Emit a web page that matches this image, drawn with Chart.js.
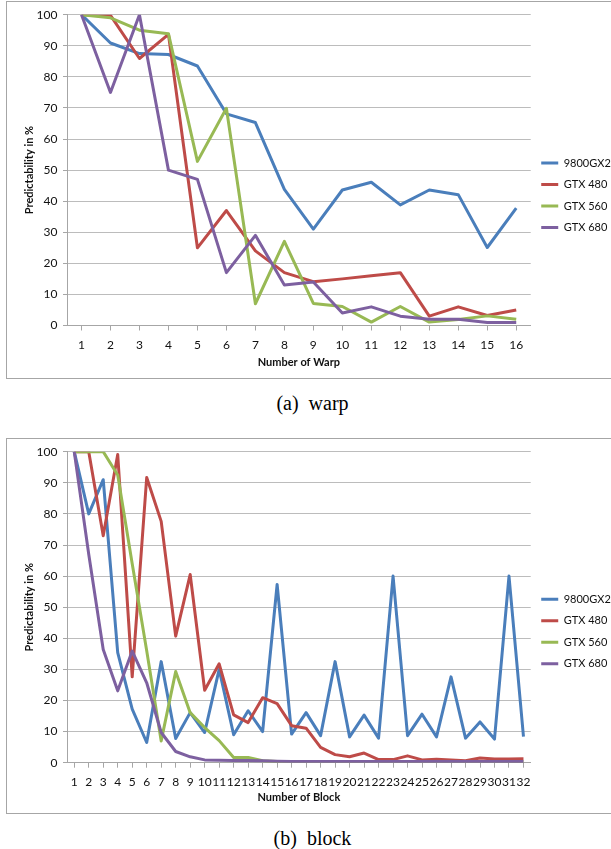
<!DOCTYPE html>
<html>
<head>
<meta charset="utf-8">
<script src="https://cdn.jsdelivr.net/npm/chart.js@4.4.1/dist/chart.umd.min.js"></script>
<style>
  html, body { margin: 0; padding: 0; background: #fff; }
  body { width: 611px; height: 849px; overflow: hidden; position: relative; }
  .frame { position: absolute; left: 6px; width: 640px; border: 1px solid #a6a6a6; background: #fff; }
  #frameWarp { top: 1px; height: 376px; }
  #frameBlock { top: 438px; height: 374px; }
  .frame canvas { position: absolute; left: 0; top: 0; }
  .caption { position: absolute; left: 0; width: 625px; text-align: center; line-height: 24px;
             font-family: "Liberation Serif", "Times New Roman", serif; font-size: 20px; color: #000; }
</style>
</head>
<body>
<div class="frame" id="frameWarp"><canvas id="warpChart" width="620" height="376"></canvas></div>
<div class="caption" style="top:391px">(a)&nbsp;&nbsp;warp</div>
<div class="frame" id="frameBlock"><canvas id="blockChart" width="620" height="374"></canvas></div>
<div class="caption" style="top:826px">(b)&nbsp;&nbsp;block</div>
<script>
// series names and tick labels
const seriesNames = ['9800GX2', 'GTX 480', 'GTX 560', 'GTX 680'];
const warpLabels = ['1', '2', '3', '4', '5', '6', '7', '8', '9', '10', '11', '12', '13', '14', '15', '16'];
const blockLabels = ['1', '2', '3', '4', '5', '6', '7', '8', '9', '10', '11', '12', '13', '14', '15', '16',
                     '17', '18', '19', '20', '21', '22', '23', '24', '25', '26', '27', '28', '29', '30', '31', '32'];

// (a) predictability per number of warps, in %
const warp9800GX2 = [100, 90.9, 87.5, 87.2, 83.5, 68.1, 65.3, 43.8, 31.0, 43.6, 46.1, 38.8, 43.6, 42.1, 25.1, 37.8];
const warpGTX480 = [100, 99.8, 85.9, 93.7, 25, 37, 24, 17, 14.1, 15, 16, 17, 3, 6, 3.2, 5];
const warpGTX560 = [100, 99, 95, 93.9, 52.8, 69.9, 7, 27.1, 7.1, 6.1, 1.1, 6.1, 1.1, 1.9, 3.1, 2];
const warpGTX680 = [100, 75, 100, 50, 47, 17, 29, 13, 14, 4, 6, 3, 2, 2, 1, 1];

// (b) predictability per number of blocks, in %
const block9800GX2 = [100, 80, 91, 35.4, 17.2, 6.5, 32.5, 7.8, 16.1, 9.7, 30, 9.0, 16.7, 10, 57.3, 9.2,
                      16.1, 8.7, 32.5, 8.3, 15.3, 7.9, 60, 8.7, 15.6, 8.3, 27.6, 7.9, 13.1, 7.6, 60, 8.4];
const blockGTX480 = [100, 100, 73, 99.1, 27.6, 91.7, 77.6, 40.7, 60.5, 23.3, 31.8, 15.4, 12.9, 20.9, 19, 11.9,
                     11.1, 4.9, 2.6, 1.9, 3.1, 1, 1, 2.2, 0.9, 1.1, 0.9, 0.6, 1.5, 1.2, 1.2, 1.3];
const blockGTX560 = [100, 100, 100, 92.5, 64, 36, 7, 29.3, 16.1, 11.3, 7.1, 1.7, 1.7, 0.6, 0.4, 0.3,
                     0.3, 0.3, 0.3, 0.3, 0.3, 0.3, 0.3, 0.3, 0.3, 0.3, 0.3, 0.3, 0.3, 0.3, 0.3, 0.3];
const blockGTX680 = [100, 67, 36.4, 23.1, 35.9, 25.7, 9.7, 3.6, 1.9, 0.9, 0.8, 0.7, 0.7, 0.6, 0.5, 0.4,
                     0.4, 0.4, 0.4, 0.4, 0.4, 0.4, 0.4, 0.4, 0.4, 0.4, 0.4, 0.4, 0.4, 0.4, 0.4, 0.4];

const seriesColors = ['#4a7ebb', '#be4b48', '#98b954', '#7d60a0'];
const axisGray = '#a6a6a6';
const gridGray = '#bcbcbc';
const textColor = '#111';

Chart.defaults.font.family = 'Lato, "Open Sans", sans-serif';
Chart.defaults.color = textColor;

function make_chart(canvasId, labels, series, xTitle, xAxisHeight, topPad) {
    const datasets = series.map((data, i) => ({
        label: seriesNames[i],
        data: data,
        borderColor: seriesColors[i],
        backgroundColor: seriesColors[i],
        borderWidth: 3,
        borderJoinStyle: 'round',
        pointRadius: 0,
        tension: 0,
        fill: false,
        order: series.length - i   // later series drawn on top, like the original
    }));

    return new Chart(document.getElementById(canvasId), {
        type: 'line',
        data: { labels: labels, datasets: datasets },
        options: {
            responsive: false,
            animation: false,
            devicePixelRatio: 1,
            layout: { padding: { top: topPad, right: 6.2, bottom: 0, left: 0 } },
            plugins: {
                tooltip: { enabled: false },
                legend: {
                    position: 'right',
                    labels: {
                        boxWidth: 17,
                        boxHeight: 3,
                        padding: 10.5,
                        color: textColor,
                        font: { size: 11 },
                        generateLabels: chart => Chart.defaults.plugins.legend.labels.generateLabels(chart)
                            .map(item => Object.assign(item, { lineWidth: 0 })),
                        sort: (a, b) => a.datasetIndex - b.datasetIndex
                    }
                }
            },
            scales: {
                x: {
                    offset: true,
                    grid: { drawOnChartArea: false, drawTicks: true, tickLength: 5, color: axisGray },
                    border: { color: axisGray, width: 1 },
                    ticks: { autoSkip: false, maxRotation: 0, minRotation: 0, padding: 7, font: { size: 12 } },
                    title: { display: true, text: xTitle, font: { size: 11, weight: 'bold' }, padding: { top: 0, bottom: 9.2 } },
                    afterFit: scale => { scale.height = xAxisHeight; }
                },
                y: {
                    min: 0,
                    max: 100,
                    ticks: { stepSize: 10, padding: 5.5, font: { size: 12 } },
                    grid: { color: gridGray, tickColor: axisGray, tickLength: 4 },
                    border: { color: axisGray, width: 1 },
                    title: { display: true, text: 'Predictability in %', font: { size: 11, weight: 'bold' }, padding: { top: 15.7, bottom: 0 } },
                    afterFit: scale => { scale.width = 60; }
                }
            }
        }
    });
}

make_chart('warpChart', warpLabels, [warp9800GX2, warpGTX480, warpGTX560, warpGTX680], 'Number of Warp', 52.5, 10.7);
make_chart('blockChart', blockLabels, [block9800GX2, blockGTX480, blockGTX560, blockGTX680], 'Number of Block', 50.3, 11);
</script>
</body>
</html>
